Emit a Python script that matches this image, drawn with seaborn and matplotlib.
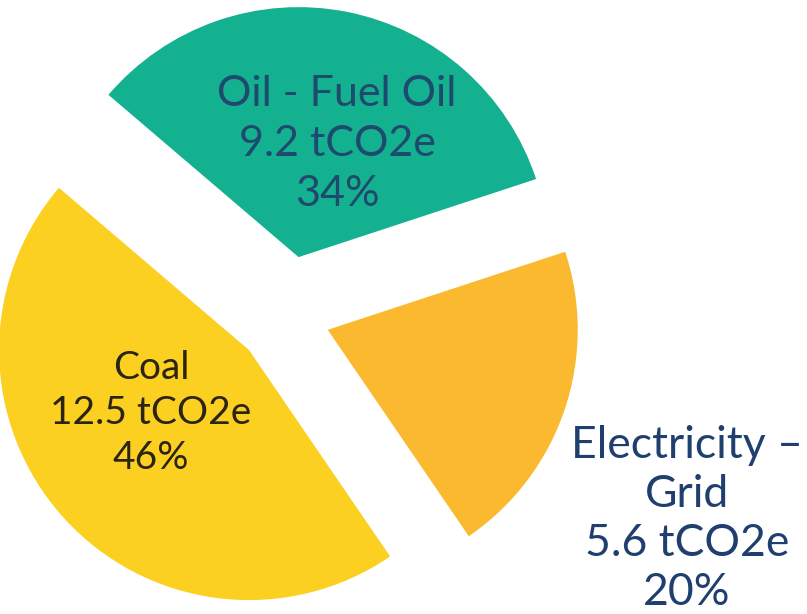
import matplotlib
matplotlib.use("Agg")
import matplotlib.pyplot as plt
import seaborn as sns

sns.set_theme(style="white")
plt.rcParams['font.family'] = ['Lato', 'DejaVu Sans']

categories = ["Oil - Fuel Oil", "Coal", "Electricity \u2013\nGrid"]
values = [9.2, 12.5, 5.6]
percents = ["34%", "46%", "20%"]
colors = ["#14B191", "#FCD020", "#FAB92E"]
text_colors = ["#1E4A6E", "#2B2410", "#1F3F6E"]

W, H = 807, 614
fig = plt.figure(figsize=(W / 100, H / 100), dpi=100)
ax = fig.add_axes([0, 0, 1, 1])

R = 250
cx, cy = 287, H - 316
explode = [60, 51, 43]  # offsets in pixel-data units
wedges, _ = ax.pie(values, colors=colors, startangle=18.2, explode=explode,
                   radius=R, center=(cx, cy), counterclock=True,
                   wedgeprops=dict(linewidth=0))

# (x center, first baseline y in px, line step px, font size)
label_layout = [(337, 106, 50, 31), (151, 379, 45, 28), (687, 458, 49, 32)]
for cat, v, p, tc, (lx, by, step, fs) in zip(categories, values, percents,
                                              text_colors, label_layout):
    lines = cat.split("\n") + [f"{v} tCO2e", p]
    for i, line in enumerate(lines):
        ax.text(lx, H - (by + i * step), line, ha="center", va="baseline",
                fontsize=fs, color=tc)

ax.set_xlim(0, W)
ax.set_ylim(0, H)
ax.set_aspect("equal")
ax.axis("off")
fig.savefig("out.png", dpi=100, facecolor="white")
